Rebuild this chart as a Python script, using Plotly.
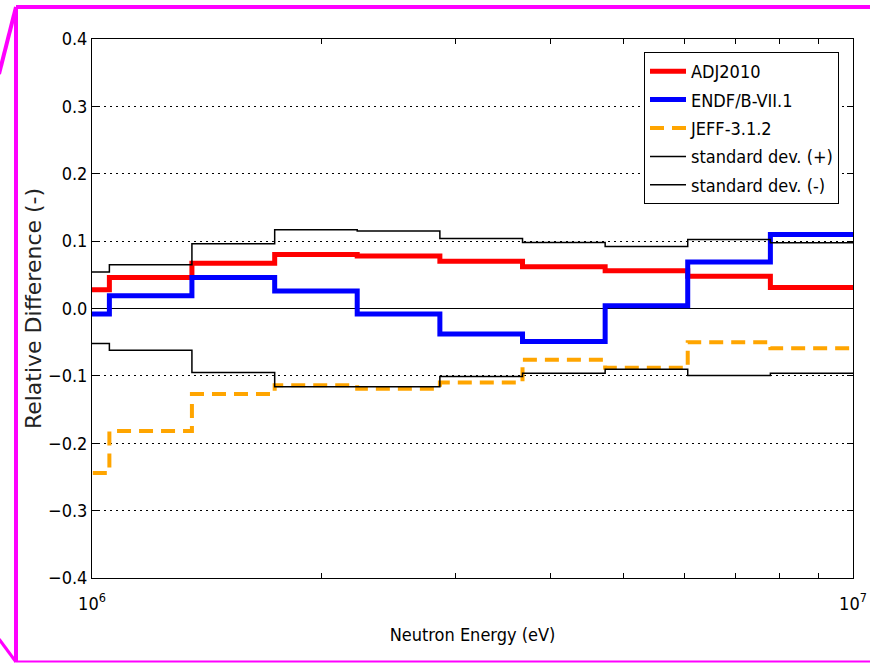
import plotly.graph_objects as go

# Group boundaries (eV), lethargy width 0.25 (ECCO-like structure)
edges = [8.21e5, 1.054e6, 1.353e6, 1.738e6, 2.231e6, 2.865e6,
         3.679e6, 4.724e6, 6.065e6, 7.788e6, 1.0e7]

adj2010 = [0.028, 0.046, 0.067, 0.080, 0.078, 0.070, 0.062, 0.056, 0.048, 0.031]
endf71 = [-0.008, 0.019, 0.046, 0.026, -0.008, -0.038, -0.049, 0.004, 0.069, 0.110]
jeff312 = [-0.244, -0.182, -0.127, -0.114, -0.119, -0.110, -0.076, -0.088, -0.050, -0.059]
std_plus = [0.054, 0.065, 0.096, 0.117, 0.115, 0.104, 0.098, 0.092, 0.1025, 0.0975]
std_minus = [-0.052, -0.062, -0.095, -0.116, -0.116, -0.101, -0.096, -0.090, -0.0995, -0.096]

x_tickvals = [1e6, 2e6, 3e6, 4e6, 5e6, 6e6, 7e6, 8e6, 9e6, 1e7]
x_ticktext = ["10<sup>6</sup>", "", "", "", "", "", "", "", "", "10<sup>7</sup>"]

W, H = 870, 663
FONT = "DejaVu Sans Condensed, DejaVu Sans"
FS = 18


def stepy(vals):
    return list(vals) + [vals[-1]]


series = [
    ("ADJ2010", adj2010, dict(color="#ff0000", width=5)),
    ("ENDF/B-VII.1", endf71, dict(color="#0000ff", width=5)),
    ("JEFF-3.1.2", jeff312, dict(color="#ffa500", width=4, dash="14px,8px")),
    ("standard dev. (+)", std_plus, dict(color="black", width=1.5)),
    ("standard dev. (-)", std_minus, dict(color="black", width=1.5)),
]

fig = go.Figure()
for name, vals, line in series:
    fig.add_trace(go.Scatter(
        x=edges, y=stepy(vals), mode="lines", line_shape="hv",
        line=line, name=name, legendgroup=name,
    ))

px = lambda x: x / W
py = lambda y: 1 - y / H

mag = "#ff00ff"
shapes = [
    dict(type="line", xref="paper", yref="paper", x0=px(16), y0=py(7), x1=px(872), y1=py(7),
         line=dict(color=mag, width=4)),
    dict(type="line", xref="paper", yref="paper", x0=px(16), y0=py(7), x1=px(16), y1=py(662),
         line=dict(color=mag, width=4)),
    dict(type="line", xref="paper", yref="paper", x0=px(16), y0=py(661.5), x1=px(872), y1=py(661.5),
         line=dict(color=mag, width=2)),
    dict(type="line", xref="paper", yref="paper", x0=px(16), y0=py(7), x1=px(-1), y1=py(74),
         line=dict(color=mag, width=4)),
    dict(type="line", xref="paper", yref="paper", x0=px(16), y0=py(662), x1=px(-1), y1=py(639),
         line=dict(color=mag, width=3)),
]

fig.update_layout(
    width=W, height=H,
    margin=dict(l=0, r=0, t=0, b=0),
    paper_bgcolor="white", plot_bgcolor="white",
    font=dict(family=FONT, size=FS, color="black"),
    showlegend=True,
    legend=dict(x=px(644), y=py(52), xanchor="left", yanchor="top",
                bgcolor="white", bordercolor="black", borderwidth=1,
                tracegroupgap=2, font=dict(size=FS), itemwidth=36),
    shapes=shapes,
    xaxis=dict(
        type="log", range=[6, 7], domain=[px(92), px(853)],
        showline=True, linecolor="black", linewidth=1, mirror="ticks",
        ticks="inside", ticklen=5, tickcolor="black",
        tickvals=x_tickvals, ticktext=x_ticktext, ticklabelstandoff=9,
        showgrid=False, zeroline=False, automargin=False,
        title=dict(text="Neutron Energy (eV)", standoff=15, font=dict(size=FS)),
        tickfont=dict(size=FS),
    ),
    yaxis=dict(
        range=[-0.4, 0.4], domain=[py(578), py(39)],
        tick0=0, dtick=0.1, tickformat=".1f",
        showline=True, linecolor="black", linewidth=1, mirror="ticks",
        ticks="inside", ticklen=6, tickcolor="black",
        showgrid=True, gridcolor="black", gridwidth=1, griddash="2px,4px",
        zeroline=True, zerolinecolor="black", zerolinewidth=1,
        automargin=False,
        title=dict(text="Relative Difference (-)", standoff=0,
                   font=dict(family="DejaVu Sans", size=22, color="#222222")),
        tickfont=dict(size=FS),
    ),
)

fig.write_html("out.html", config={"displayModeBar": False},
               post_script="document.body.style.margin='0';document.body.style.overflow='hidden';")
